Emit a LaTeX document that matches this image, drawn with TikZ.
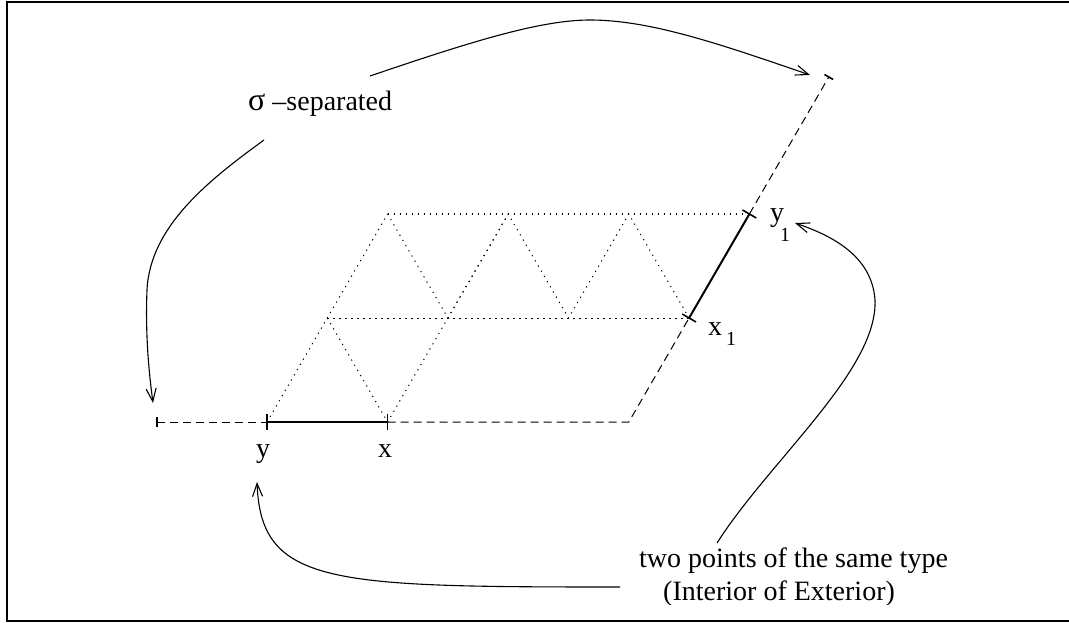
\documentclass[tikz,border=0pt]{standalone}
\usepackage{fontspec}
\setmainfont{Liberation Serif}
\usetikzlibrary{arrows.meta,calc}
\begin{document}
\begin{tikzpicture}[x=1pt,y=-1pt,
  lbl/.style={inner sep=0pt, font=\fontsize{28}{30}\selectfont},
  sublbl/.style={inner sep=0pt, font=\fontsize{20}{22}\selectfont},
  dashline/.style={line width=1pt, dash pattern=on 8pt off 5pt},
  dotline/.style={line width=1pt, dash pattern=on 1.2pt off 4.8pt},
  seg/.style={line width=2pt},
  tickmark/.style={line width=1.6pt},
  pointer/.style={line width=1.1pt, -{Straight Barb[length=13pt,width=10pt]}},
  frame/.style={line width=1.8pt}]
\useasboundingbox (0,0) rectangle (1069,623);
\draw[frame] (1069,2) -- (7,2) -- (7,621) -- (1069,621);

% lattice points
\coordinate (L) at (157,422);
\coordinate (Y) at (267,422);
\coordinate (X) at (387.6,422);
\coordinate (BR) at (628.8,422);
\coordinate (M0) at (327.3,318);
\coordinate (M1) at (447.9,318);
\coordinate (M2) at (568.5,318);
\coordinate (X1) at (689.1,318);
\coordinate (T0) at (387.6,214);
\coordinate (T1) at (508.2,214);
\coordinate (T2) at (628.8,214);
\coordinate (Y1) at (749.4,214);
\coordinate (E) at (828.8,77);

% dotted triangulation
\draw[dotline] (Y) -- (M0) -- (T0);
\draw[dotline] (T0) -- (Y1);
\draw[dotline] (M0) -- (X1);
\draw[dotline] (M0) -- (X) -- (M1) -- (T1);
\draw[dotline] (T0) -- (M1) -- (T1) -- (M2) -- (T2) -- (X1);

% dashed boundary
\draw[dashline] (L) -- (Y);
\draw[dashline] (X) -- (BR) -- (X1);
\draw[dashline] (Y1) -- (E);

% solid segments
\draw[seg] (Y) -- (X);
\draw[seg] (X1) -- (Y1);

% ticks
\draw[tickmark] ($(L)+(0,-5)$) -- ($(L)+(0,5)$);
\draw[tickmark] ($(Y)+(0,-8)$) -- ($(Y)+(0,8)$);
\draw[tickmark] ($(X)+(0,-8)$) -- ($(X)+(0,8)$);
\draw[tickmark] ($(X1)!8pt!90:(Y1)$) -- ($(X1)!8pt!-90:(Y1)$);
\draw[tickmark] ($(Y1)!8pt!90:(X1)$) -- ($(Y1)!8pt!-90:(X1)$);
\draw[tickmark] ($(E)!5pt!90:(Y1)$) -- ($(E)!5pt!-90:(Y1)$);

% labels
\node[lbl, anchor=base] (ylab) at (263,457) {y};
\node[lbl, anchor=base] (xlab) at (385,457) {x};
\node[lbl, anchor=base west] (x1lab) at (708,335) {x};
\node[sublbl, anchor=base west] (x1sub) at (726,345) {1};
\node[lbl, anchor=base west] (y1lab) at (770,222) {y};
\node[sublbl, anchor=base west] (y1sub) at (780,241) {1};
\node[lbl, anchor=base west] (sig) at (248,111) {{\fontsize{32}{32}\selectfont σ} –separated};
\node[lbl, anchor=base west] (two) at (639,567) {two points of the same type};
\begin{scope}
\clip (600,575) rectangle (1000,604);
\node[lbl, anchor=base west] (intext) at (663,600) {(Interior of Exterior)};
\end{scope}

% arrows
\coordinate (a1s) at (370,76);
\coordinate (a1e) at (810,75);
\coordinate (a2s) at (264,140);
\coordinate (a2e) at (153,403);
\coordinate (a3s) at (717,543);
\coordinate (a3e) at (795,223);
\coordinate (a4s) at (620,587);
\coordinate (a4e) at (257,482);
\draw[pointer] (a1s) .. controls (470,42) and (540,20) .. (590,20) .. controls (650,20) and (720,44) .. (a1e);
\draw[pointer] (a2s) .. controls (212,178) and (150,225) .. (147,290) .. controls (145,340) and (150,380) .. (a2e);
\draw[pointer] (a3s) .. controls (770,460) and (878,370) .. (875,300) .. controls (872,255) and (830,235) .. (a3e);
\draw[pointer] (a4s) .. controls (330,587) and (261,585) .. (a4e);
\end{tikzpicture}
\end{document}
